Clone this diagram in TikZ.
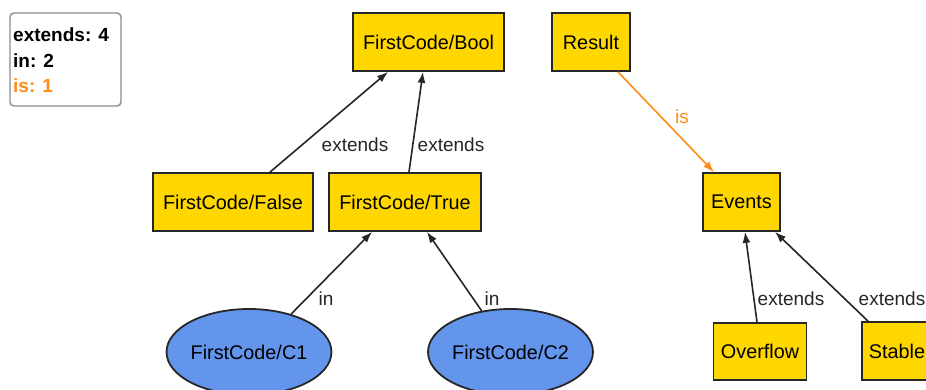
\documentclass[tikz,border=0pt]{standalone}
\usepackage{fontspec}
\setmainfont{Liberation Sans}
\usetikzlibrary{shapes.geometric,arrows.meta,calc}
\definecolor{boxyellow}{RGB}{255,215,0}
\definecolor{ellblue}{RGB}{100,149,237}
\definecolor{isorange}{RGB}{255,140,20}
\definecolor{legendgray}{RGB}{140,140,140}
\begin{document}
\begin{tikzpicture}[x=1pt,y=-1pt,
  every node/.style={font=\fontsize{19}{25.5}\selectfont, inner sep=0pt},
  ybox/.style={draw=black!85, line width=1.8pt, fill=boxyellow, rectangle, font=\fontsize{19.8}{24}\selectfont},
  yell/.style={draw=black!85, line width=1.8pt, fill=ellblue, ellipse, font=\fontsize{19.8}{24}\selectfont},
  conn/.style={draw=black!85, line width=1.6pt, -{Latex[length=11pt,width=8pt]}},
  isconn/.style={draw=isorange, line width=1.6pt, -{Latex[length=11pt,width=8pt]}},
  lbl/.style={text=black!85},
  islbl/.style={text=isorange}]
\useasboundingbox (0,0) rectangle (926,390);
\fill[white] (0,0) rectangle (926,390);

% legend
\node[draw=legendgray, line width=1.4pt, rounded corners=4pt, minimum width=111pt, minimum height=93pt] (legend) at (65.5,59.5) {};
\node[anchor=west, font=\fontsize{19}{25.5}\bfseries] (lg1) at (13,35) {extends: 4};
\node[anchor=west, font=\fontsize{19}{25.5}\bfseries] (lg2) at (13,61) {in: 2};
\node[anchor=west, font=\fontsize{19}{25.5}\bfseries, text=isorange] (lg3) at (13,86) {is: 1};

% nodes
\node[ybox, minimum width=151pt, minimum height=58pt] (bool) at (428.5,42) {FirstCode/Bool};
\node[ybox, minimum width=78pt, minimum height=58pt] (result) at (591,42) {Result};
\node[ybox, minimum width=160pt, minimum height=58pt] (false) at (233,202) {FirstCode/False};
\node[ybox, minimum width=152pt, minimum height=58pt] (true) at (405,202) {FirstCode/True};
\node[ybox, minimum width=77pt, minimum height=58pt] (events) at (741.5,202) {Events};
\node[yell, minimum width=162pt, minimum height=86pt] (c1) at (249,352) {FirstCode/C1};
\node[yell, minimum width=163pt, minimum height=86pt] (c2) at (510.5,352) {FirstCode/C2};
\node[ybox, minimum width=93pt, minimum height=57pt] (overflow) at (760,351.5) {Overflow};
\node[ybox, minimum width=70pt, minimum height=58pt] (stable) at (897,351) {Stable};

% connectors
\draw[conn] ($(false.north)+(37,0)$) -- ($(bool.south)+(-40.5,0)$);
\draw[conn] ($(true.north)+(4,0)$) -- ($(bool.south)+(-5.5,0)$);
\draw[conn] (c1.42) -- ($(true.south)+(-33,0)$);
\draw[conn] (c2.125) -- ($(true.south)+(22,0)$);
\draw[isconn] ($(result.south)+(27,0)$) -- ($(events.north)+(-27.5,0)$);
\draw[conn] ($(overflow.north)+(-3,0)$) -- ($(events.south)+(3.5,0)$);
\draw[conn] ($(stable.north)+(-29,0)$) -- ($(events.south)+(33.5,0)$);

% labels
\node[lbl] (l1) at (355,145) {extends};
\node[lbl] (l2) at (451,145) {extends};
\node[lbl] (l3) at (326,299) {in};
\node[lbl] (l4) at (492,299) {in};
\node[islbl] (l5) at (682,117) {is};
\node[lbl] (l6) at (791,299) {extends};
\node[lbl] (l7) at (892,299) {extends};
\end{tikzpicture}
\end{document}
